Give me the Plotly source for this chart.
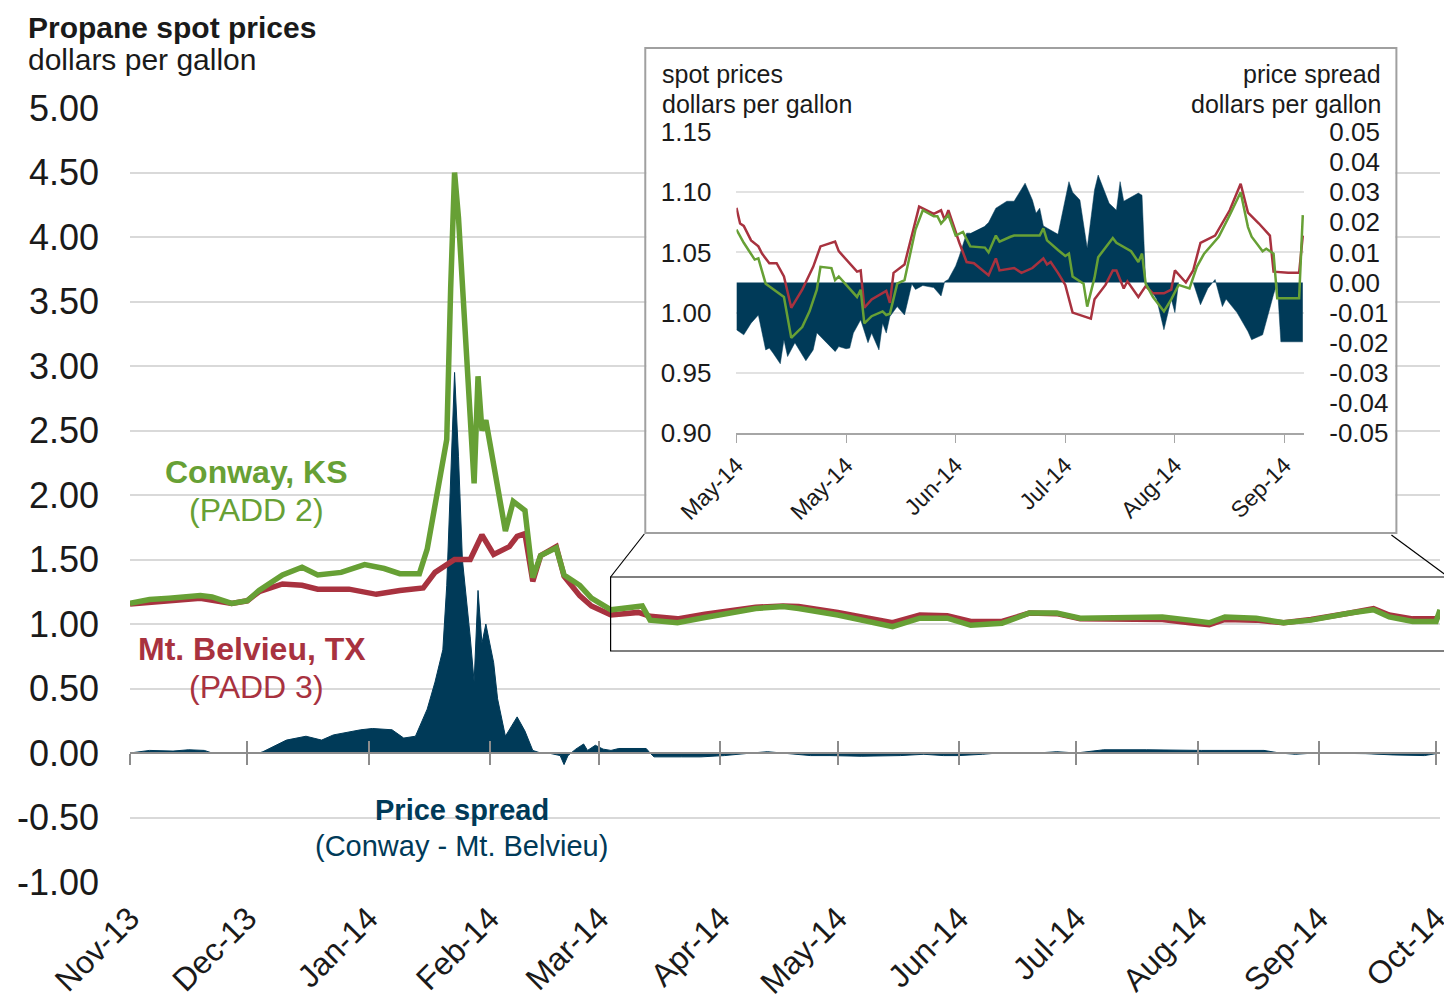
"""
Propane spot prices: Conway vs Mt. Belvieu, with price-spread area and zoomed inset
"""
import pandas as pd
import plotly.graph_objects as go

# ---- main chart data -------------------------------------------------------
month_ticks = ['2013-11-01', '2013-12-01', '2014-01-01', '2014-02-01', '2014-03-01', '2014-04-01',
               '2014-05-01', '2014-06-01', '2014-07-01', '2014-08-01', '2014-09-01', '2014-10-01']
month_labels = ['Nov-13', 'Dec-13', 'Jan-14', 'Feb-14', 'Mar-14', 'Apr-14',
                'May-14', 'Jun-14', 'Jul-14', 'Aug-14', 'Sep-14', 'Oct-14']

y_ticks = [-1.0, -0.5, 0.0, 0.5, 1.0, 1.5, 2.0, 2.5, 3.0, 3.5, 4.0, 4.5, 5.0]
y_labels = ['-1.00', '-0.50', '0.00', '0.50', '1.00', '1.50', '2.00', '2.50',
            '3.00', '3.50', '4.00', '4.50', '5.00']

conway_dates = ['2013-11-01', '2013-11-06', '2013-11-11', '2013-11-19', '2013-11-22', '2013-11-27',
                '2013-12-01', '2013-12-04', '2013-12-10', '2013-12-15', '2013-12-19', '2013-12-25',
                '2013-12-31', '2014-01-05', '2014-01-09', '2014-01-14', '2014-01-16', '2014-01-21',
                '2014-01-22', '2014-01-23', '2014-01-24', '2014-01-28', '2014-01-29', '2014-01-30',
                '2014-01-31', '2014-02-02', '2014-02-05', '2014-02-07', '2014-02-10', '2014-02-12',
                '2014-02-14', '2014-02-18', '2014-02-20', '2014-02-24', '2014-02-27', '2014-03-04',
                '2014-03-11', '2014-03-12', '2014-03-14', '2014-03-21', '2014-03-28', '2014-04-04',
                '2014-04-10', '2014-04-17', '2014-04-21', '2014-05-01', '2014-05-08', '2014-05-15',
                '2014-05-22', '2014-05-29', '2014-06-04', '2014-06-12', '2014-06-19', '2014-06-26',
                '2014-07-02', '2014-07-16', '2014-07-23', '2014-07-30', '2014-08-04', '2014-08-08',
                '2014-08-16', '2014-08-23', '2014-08-30', '2014-09-09', '2014-09-15', '2014-09-19',
                '2014-09-25', '2014-10-01', '2014-10-02']
conway = [1.16, 1.19, 1.20, 1.22, 1.21, 1.16, 1.18, 1.26, 1.38, 1.44,
          1.38, 1.40, 1.46, 1.43, 1.39, 1.39, 1.58, 2.43, 3.60, 4.50,
          4.15, 2.09, 2.92, 2.50, 2.58, 2.25, 1.72, 1.95, 1.88, 1.36,
          1.53, 1.59, 1.38, 1.30, 1.20, 1.11, 1.13, 1.14, 1.03, 1.01,
          1.05, 1.085, 1.12, 1.135, 1.12, 1.07, 1.03, 0.98, 1.045, 1.045,
          0.99, 1.005, 1.085, 1.085, 1.045, 1.045, 1.055, 1.03, 1.01, 1.055,
          1.045, 1.01, 1.03, 1.085, 1.11, 1.055, 1.02, 1.02, 1.11]

belvieu_dates = ['2013-11-01', '2013-11-06', '2013-11-19', '2013-11-27', '2013-12-01', '2013-12-04',
                 '2013-12-10', '2013-12-15', '2013-12-19', '2013-12-27', '2014-01-03', '2014-01-09',
                 '2014-01-15', '2014-01-18', '2014-01-23', '2014-01-27', '2014-01-30', '2014-02-02',
                 '2014-02-06', '2014-02-08', '2014-02-10', '2014-02-12', '2014-02-14', '2014-02-18',
                 '2014-02-20', '2014-02-24', '2014-02-27', '2014-03-04', '2014-03-11', '2014-03-14',
                 '2014-03-21', '2014-03-28', '2014-04-04', '2014-04-10', '2014-04-17', '2014-04-21',
                 '2014-05-01', '2014-05-08', '2014-05-15', '2014-05-22', '2014-05-29', '2014-06-04',
                 '2014-06-12', '2014-06-19', '2014-06-26', '2014-07-02', '2014-07-16', '2014-07-23',
                 '2014-07-30', '2014-08-04', '2014-08-08', '2014-08-16', '2014-08-23', '2014-08-30',
                 '2014-09-09', '2014-09-15', '2014-09-19', '2014-09-25', '2014-10-01', '2014-10-02']
belvieu = [1.155, 1.17, 1.20, 1.16, 1.18, 1.25, 1.31, 1.30, 1.27, 1.27,
           1.23, 1.26, 1.28, 1.40, 1.50, 1.50, 1.69, 1.54, 1.60, 1.68,
           1.70, 1.33, 1.53, 1.60, 1.37, 1.22, 1.14, 1.07, 1.09, 1.06,
           1.04, 1.075, 1.10, 1.13, 1.14, 1.135, 1.09, 1.055, 1.01, 1.07,
           1.065, 1.02, 1.02, 1.085, 1.08, 1.04, 1.035, 1.035, 1.01, 0.995,
           1.035, 1.03, 1.01, 1.035, 1.085, 1.12, 1.07, 1.04, 1.04, 1.07]

spread_dates = ['2013-11-01', '2013-11-06', '2013-11-12', '2013-11-16', '2013-11-20', '2013-11-22',
                '2013-12-04', '2013-12-05', '2013-12-11', '2013-12-16', '2013-12-20', '2013-12-23',
                '2013-12-30', '2014-01-02', '2014-01-07', '2014-01-10', '2014-01-13', '2014-01-16',
                '2014-01-18', '2014-01-20', '2014-01-21', '2014-01-22', '2014-01-23', '2014-01-24',
                '2014-01-25', '2014-01-27', '2014-01-28', '2014-01-29', '2014-01-30', '2014-01-31',
                '2014-02-02', '2014-02-03', '2014-02-05', '2014-02-08', '2014-02-10', '2014-02-12',
                '2014-02-14', '2014-02-16', '2014-02-19', '2014-02-20', '2014-02-21', '2014-02-23',
                '2014-02-25', '2014-02-26', '2014-02-27', '2014-02-28', '2014-03-02', '2014-03-04',
                '2014-03-06', '2014-03-13', '2014-03-14', '2014-03-15', '2014-03-22', '2014-03-27',
                '2014-04-02', '2014-04-05', '2014-04-09', '2014-04-13', '2014-04-17', '2014-04-24',
                '2014-04-29', '2014-05-07', '2014-05-17', '2014-05-23', '2014-05-28', '2014-06-01',
                '2014-06-07', '2014-06-11', '2014-06-21', '2014-06-26', '2014-07-01', '2014-07-08',
                '2014-07-19', '2014-07-27', '2014-08-02', '2014-08-08', '2014-08-18', '2014-08-22',
                '2014-08-26', '2014-08-31', '2014-09-13', '2014-09-20', '2014-09-28', '2014-10-02']
spread = [0.0, 0.02, 0.015, 0.025, 0.02, 0.0, 0.0, 0.01, 0.10, 0.13,
          0.10, 0.14, 0.18, 0.19, 0.18, 0.116, 0.13, 0.34, 0.55, 0.80,
          1.30, 2.20, 2.95, 2.30, 1.50, 0.90, 0.55, 1.26, 0.85, 1.00,
          0.70, 0.42, 0.13, 0.28, 0.17, 0.02, 0.0, 0.0, -0.02, -0.09,
          -0.02, 0.03, 0.07, 0.02, 0.04, 0.06, 0.03, 0.02, 0.035, 0.035,
          0.0, -0.03, -0.03, -0.03, -0.02, -0.01, 0.0, 0.01, 0.0, -0.02,
          -0.02, -0.025, -0.02, -0.01, -0.02, -0.02, -0.01, 0.0, 0.0, 0.01,
          0.0, 0.025, 0.025, 0.02, 0.02, 0.02, 0.02, 0.0, -0.01, 0.0,
          -0.005, -0.015, -0.02, 0.0]

# ---- inset data (days after 1 May 2014) --------------------------------------
inset_start = pd.Timestamp('2014-05-01')
inset_tick_day = [0, 30, 60, 90, 120, 150]
inset_tick_text = ['May-14', 'May-14', 'Jun-14', 'Jul-14', 'Aug-14', 'Sep-14']
inset_price_ticks = [0.90, 0.95, 1.00, 1.05, 1.10, 1.15]
inset_price_labels = ['0.90', '0.95', '1.00', '1.05', '1.10', '1.15']
inset_spread_ticks = [-0.05, -0.04, -0.03, -0.02, -0.01, 0.0, 0.01, 0.02, 0.03, 0.04, 0.05]
inset_spread_labels = ['-0.05', '-0.04', '-0.03', '-0.02', '-0.01', '0.00',
                       '0.01', '0.02', '0.03', '0.04', '0.05']

inset_red_day = [0, 1, 2, 4, 6, 7, 9, 11, 13, 15, 18, 21, 23, 27, 28, 30, 33, 34, 35, 37,
                 41, 42, 43, 46, 50, 54, 56, 57, 58, 61, 63, 65, 69, 71, 72, 76, 78, 81, 84, 85,
                 86, 88, 90, 92, 94, 97, 98, 101, 103, 104, 106, 107, 110, 112, 114, 117, 119, 120,
                 123, 125, 127, 131, 135, 138, 140, 143, 146, 147, 151, 154, 155]
inset_red = [1.087, 1.074, 1.072, 1.060, 1.055, 1.049, 1.041, 1.041, 1.030, 1.004,
             1.019, 1.038, 1.055, 1.059, 1.051, 1.044, 1.034, 1.035, 1.004, 1.011,
             1.018, 1.008, 1.033, 1.040, 1.088, 1.082, 1.085, 1.077, 1.085, 1.058,
             1.042, 1.041, 1.031, 1.045, 1.035, 1.037, 1.033, 1.037, 1.045, 1.040,
             1.042, 1.033, 1.023, 1.000, 0.998, 0.995, 1.011, 1.023, 1.035, 1.035,
             1.020, 1.026, 1.013, 1.022, 1.016, 1.016, 1.019, 1.035, 1.025, 1.035,
             1.058, 1.064, 1.085, 1.107, 1.083, 1.074, 1.064, 1.034, 1.033, 1.033, 1.064]

inset_green_day = [0, 2, 5, 6, 8, 12, 13, 15, 18, 20, 22, 23, 26, 27, 28, 33, 34, 35, 37, 40,
                   41, 42, 44, 46, 49, 51, 54, 55, 56, 58, 60, 62, 64, 68, 69, 71, 72, 75, 76, 81,
                   83, 84, 85, 88, 90, 91, 92, 95, 96, 98, 99, 103, 104, 108, 110, 111, 112, 114,
                   117, 119, 121, 124, 126, 128, 132, 135, 138, 140, 141, 144, 145, 147, 148, 154, 155]
inset_green = [1.069, 1.058, 1.044, 1.045, 1.024, 1.015, 1.013, 0.979, 0.988, 1.001,
               1.019, 1.038, 1.037, 1.027, 1.030, 1.013, 1.019, 0.991, 0.997, 1.001,
               0.998, 0.999, 1.024, 1.027, 1.069, 1.085, 1.080, 1.080, 1.074, 1.081,
               1.064, 1.067, 1.055, 1.054, 1.050, 1.064, 1.059, 1.063, 1.064, 1.064,
               1.064, 1.070, 1.060, 1.052, 1.047, 1.049, 1.030, 1.024, 1.005, 1.029,
               1.046, 1.062, 1.058, 1.051, 1.042, 1.049, 1.024, 1.013, 1.001, 1.011,
               1.023, 1.020, 1.038, 1.049, 1.063, 1.081, 1.100, 1.071, 1.063, 1.051,
               1.053, 1.049, 1.012, 1.012, 1.081]

inset_spread_day = [0, 2, 4, 6, 8, 9, 10, 12, 13, 14, 16, 19, 21, 22, 23, 27, 28, 30, 31, 32,
                    34, 36, 37, 39, 40, 41, 42, 44, 46, 48, 49, 51, 54, 56, 57, 58, 60, 61, 63, 64,
                    65, 68, 69, 71, 74, 76, 79, 81, 82, 83, 84, 88, 91, 92, 94, 96, 98, 99, 102, 104,
                    105, 106, 110, 111, 112, 115, 117, 119, 120, 121, 122, 125, 127, 129, 131, 133,
                    134, 137, 140, 141, 144, 147, 148, 149, 155]
inset_spread = [-0.0157, -0.0174, -0.0135, -0.0108, -0.0224, -0.0218, -0.0234, -0.027, -0.019, -0.0246,
                -0.020, -0.026, -0.0224, -0.0168, None, -0.023, -0.0213, -0.022, -0.0218, -0.0168,
                -0.0124, -0.020, -0.0168, -0.0224, -0.0135, -0.0168, -0.0113, -0.008, -0.0108, -0.0005,
                -0.0023, -0.001, -0.0017, -0.0045, 0.0003, 0.001, 0.0055, 0.0088, 0.0164, 0.0164,
                None, 0.0188, 0.0199, 0.0247, 0.027, 0.027, 0.033, 0.0274, 0.023, 0.0247,
                0.0188, 0.016, 0.0335, 0.030, 0.0274, 0.0114, 0.0307, 0.0357, 0.0263, 0.024,
                0.0335, 0.027, 0.0297, 0.029, 0.0, -0.0055, -0.0157, -0.0055, -0.010, 0.0,
                None, 0.0, -0.0074, -0.002, 0.001, -0.008, -0.0055, -0.010, -0.0163, -0.019,
                -0.0174, -0.004, 0.0, -0.0197, -0.0197]

# ---- styling ---------------------------------------------------------------
GREEN = '#67a035'
RED = '#a8323f'
NAVY = '#003a58'
GRID = '#d9d9d9'
AXIS = '#8c8c8c'
FONT = 'Liberation Sans, Arial, sans-serif'

PAGE = 8                            # default body margin of the html page
W, H = 1452, 1006                   # browser window
L, R, T, B = 130, 1452, 108, 882    # plot area in window pixels


def px(x):
    return (x - L) / (R - L)


def py(y):
    return (B - y) / (B - T)


def days(d):
    return inset_start + pd.to_timedelta(d, unit='D')


fig = go.Figure()

# main chart
fig.add_trace(go.Scatter(x=spread_dates, y=spread, mode='lines', fill='tozeroy',
                         fillcolor=NAVY, line=dict(color=NAVY, width=1)))
fig.add_trace(go.Scatter(x=belvieu_dates, y=belvieu, mode='lines',
                         line=dict(color=RED, width=5.5)))
fig.add_trace(go.Scatter(x=conway_dates, y=conway, mode='lines',
                         line=dict(color=GREEN, width=5.5)))

# invisible helpers so the overlay axes / cover subplot get drawn
blank = dict(mode='markers', marker=dict(opacity=0), hoverinfo='skip')
fig.add_trace(go.Scatter(x=[month_ticks[0]], y=[0], xaxis='x4', yaxis='y', **blank))
fig.add_trace(go.Scatter(x=[month_ticks[0]], y=[0], xaxis='x5', yaxis='y', **blank))
fig.add_trace(go.Scatter(x=[0.5], y=[0.5], xaxis='x2', yaxis='y2', **blank))

# inset
fig.add_trace(go.Scatter(x=days(inset_spread_day), y=inset_spread, mode='lines',
                         fill='tozeroy', fillcolor=NAVY, line=dict(color=NAVY, width=0.5),
                         connectgaps=False, xaxis='x3', yaxis='y3'))
fig.add_trace(go.Scatter(x=days(inset_red_day), y=inset_red, mode='lines',
                         line=dict(color=RED, width=2.5), xaxis='x3', yaxis='y4'))
fig.add_trace(go.Scatter(x=days(inset_green_day), y=inset_green, mode='lines',
                         line=dict(color=GREEN, width=2.5), xaxis='x3', yaxis='y4'))

main_range = ['2013-11-01', '2014-10-02']
zero_axis = dict(overlaying='x', anchor='free', position=py(753), type='date', range=main_range,
                 tickmode='array', tickvals=month_ticks, showticklabels=False,
                 ticklen=11, tickwidth=1.5, tickcolor=AXIS,
                 showline=True, linecolor=AXIS, linewidth=2, showgrid=False, zeroline=False)

fig.update_layout(
    width=W - PAGE, height=H - PAGE,
    margin=dict(l=L - PAGE, r=W - R, t=T - PAGE, b=H - B),
    paper_bgcolor='white', plot_bgcolor='white',
    showlegend=False,
    font=dict(family=FONT, color='#1a1a1a'),
    xaxis=dict(type='date', range=main_range, tickmode='array', tickvals=month_ticks,
               ticktext=month_labels, tickangle=-45, tickfont=dict(size=32),
               ticks='', showgrid=False, zeroline=False, showline=False,
               ticklabelstandoff=10, ticklabeloverflow='allow'),
    yaxis=dict(range=[-1, 5], tickmode='array', tickvals=y_ticks, ticktext=y_labels,
               tickfont=dict(size=36), showgrid=True, gridcolor=GRID, gridwidth=2,
               zeroline=False, showline=False, ticks='', ticklabelstandoff=30),
    xaxis4=dict(zero_axis, ticks='outside'),
    xaxis5=dict(zero_axis, ticks='inside'),
    # blank subplot that whites out the main gridlines behind the inset box
    xaxis2=dict(domain=[px(651), px(1407)], anchor='y2', range=[0, 1], visible=False),
    yaxis2=dict(domain=[py(532), 1.0], anchor='x2', range=[0, 1], visible=False),
    # inset axes
    xaxis3=dict(domain=[px(742), px(1315)], anchor='y3', type='date',
                range=[days(0), days(155.4)], tickmode='array',
                tickvals=days(inset_tick_day), ticktext=inset_tick_text, tickangle=-45,
                tickfont=dict(size=23), ticks='outside', ticklen=8, tickcolor='#a6a6a6',
                showline=True, linecolor='#a6a6a6', linewidth=1.5,
                showgrid=False, zeroline=False),
    yaxis3=dict(domain=[py(433), py(132)], anchor='x3', side='right', range=[-0.05, 0.05],
                tickmode='array', tickvals=inset_spread_ticks, ticktext=inset_spread_labels,
                tickfont=dict(size=26), showgrid=False, zeroline=False, ticklabelstandoff=24),
    yaxis4=dict(overlaying='y3', anchor='x3', side='left', range=[0.90, 1.15],
                tickmode='array', tickvals=inset_price_ticks, ticktext=inset_price_labels,
                tickfont=dict(size=26), showgrid=True, gridcolor='#e2e2e2', gridwidth=1.5,
                zeroline=False, ticklabelstandoff=24),
)

# inset frame, zoom window and connector lines
fig.add_shape(type='rect', xref='paper', yref='paper', x0=px(650), x1=px(1408),
              y0=py(533), y1=py(48), line=dict(color='#a0a0a0', width=2),
              fillcolor='rgba(0,0,0,0)', layer='above')
fig.add_shape(type='rect', xref='paper', yref='paper', x0=px(615), x1=px(1470),
              y0=py(651), y1=py(577), line=dict(color='black', width=1.2), layer='above')
fig.add_shape(type='line', xref='paper', yref='paper', x0=px(649), y0=py(534),
              x1=px(615), y1=py(577), line=dict(color='black', width=1.2))
fig.add_shape(type='line', xref='paper', yref='paper', x0=px(1403), y0=py(535),
              x1=px(1462), y1=py(578), line=dict(color='black', width=1.2))


def label(text, x, y, size, color='#1a1a1a', anchor='center'):
    fig.add_annotation(text=text, x=px(x), y=py(y), xref='paper', yref='paper',
                       xanchor=anchor, yanchor='middle', showarrow=False,
                       font=dict(size=size, color=color, family=FONT))


label('<b>Propane spot prices</b>', 25, 27, 30, anchor='left')
label('dollars per gallon', 25, 60, 30, anchor='left')

label('spot prices', 665, 74, 25, anchor='left')
label('dollars per gallon', 665, 104, 25, anchor='left')
label('price spread', 1394, 74, 25, anchor='right')
label('dollars per gallon', 1394, 104, 25, anchor='right')

label('<b>Conway, KS</b>', 258, 472, 32, GREEN)
label('(PADD 2)', 258, 510, 32, GREEN)
label('<b>Mt. Belvieu, TX</b>', 253, 649, 32, RED)
label('(PADD 3)', 258, 687, 32, RED)
label('<b>Price spread</b>', 465, 810, 29, NAVY)
label('(Conway - Mt. Belvieu)', 465, 846, 29, NAVY)

fig.write_html("out.html")
